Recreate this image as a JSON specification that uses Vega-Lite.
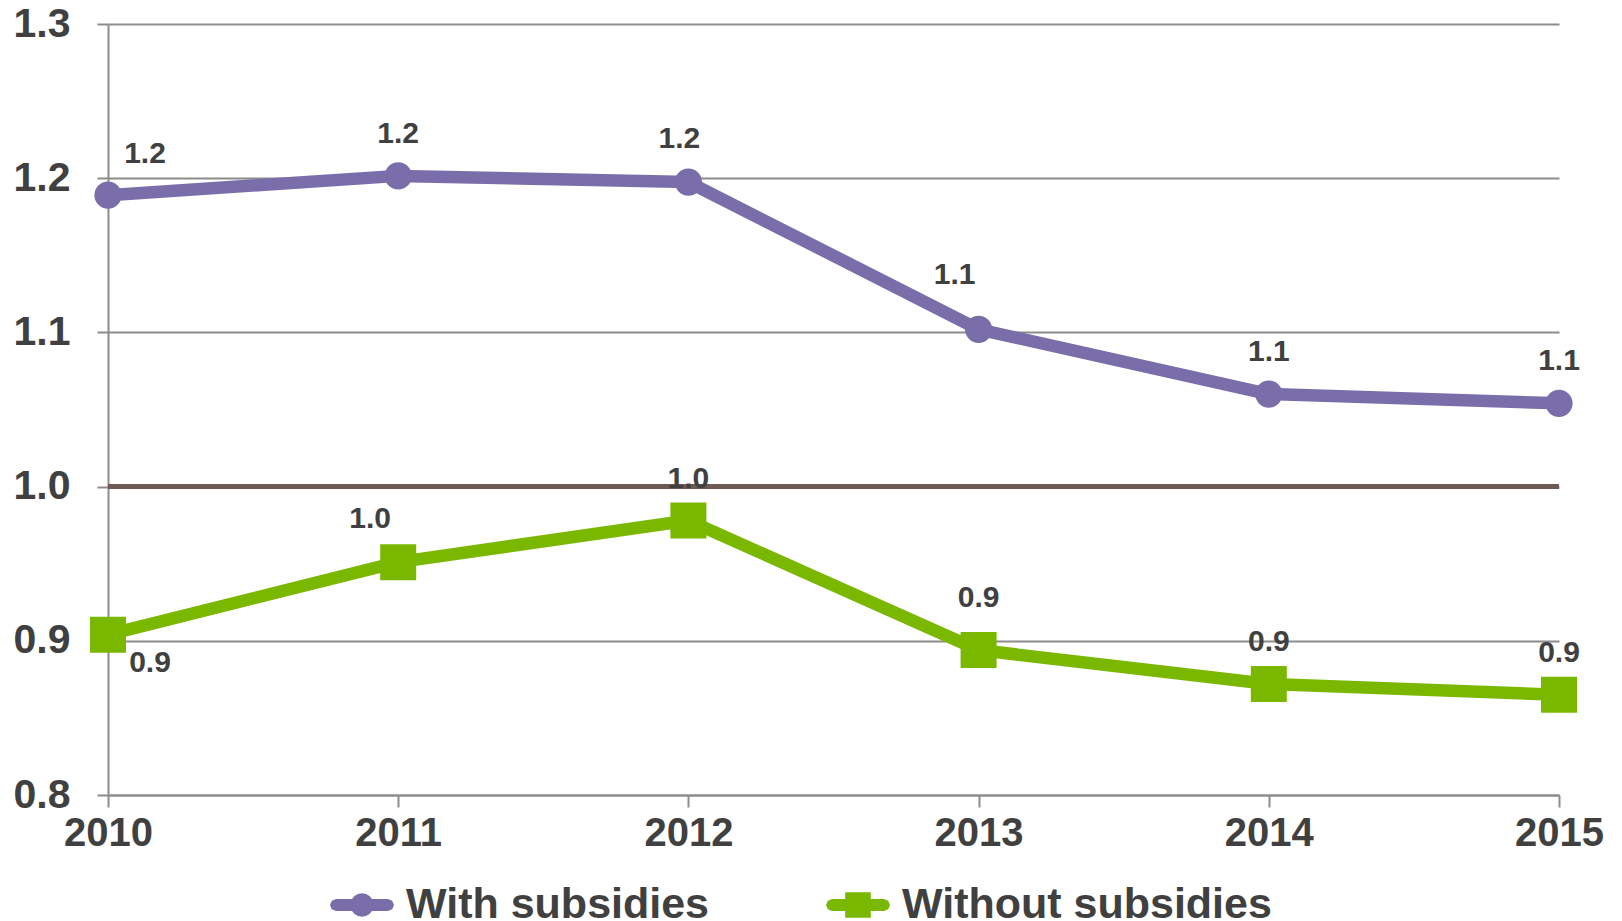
{
  "$schema": "https://vega.github.io/schema/vega-lite/v6.json",
  "width": 1451,
  "height": 771,
  "autosize": {"type": "none"},
  "padding": {"left": 108, "top": 24, "right": 63, "bottom": 126},
  "background": "white",
  "data": {
    "values": [
      {"year": 2010, "series": "With subsidies", "value": 1.189},
      {"year": 2011, "series": "With subsidies", "value": 1.2015},
      {"year": 2012, "series": "With subsidies", "value": 1.1975},
      {"year": 2013, "series": "With subsidies", "value": 1.102},
      {"year": 2014, "series": "With subsidies", "value": 1.06},
      {"year": 2015, "series": "With subsidies", "value": 1.054},
      {"year": 2010, "series": "Without subsidies", "value": 0.904},
      {"year": 2011, "series": "Without subsidies", "value": 0.951},
      {"year": 2012, "series": "Without subsidies", "value": 0.978},
      {"year": 2013, "series": "Without subsidies", "value": 0.894},
      {"year": 2014, "series": "Without subsidies", "value": 0.872},
      {"year": 2015, "series": "Without subsidies", "value": 0.865}
    ]
  },
  "config": {
    "view": {"stroke": null},
    "font": "Liberation Sans"
  },
  "layer": [
    {
      "transform": [{"filter": "datum.series == 'With subsidies'"}],
      "mark": {"type": "line", "strokeWidth": 12.5, "strokeJoin": "round", "color": "#7a6eaa"},
      "encoding": {
        "x": {"field": "year", "type": "ordinal", "scale": {"type": "point", "padding": 0},
          "axis": {"title": null, "grid": false, "domain": true, "domainColor": "#8c8c8c", "domainWidth": 2, "ticks": true, "tickSize": 12, "tickColor": "#8c8c8c", "tickWidth": 2, "labelFont": "Liberation Sans", "labelFontWeight": "bold", "labelFontSize": 40, "labelColor": "#404040", "labelPadding": 6, "labelAngle": 0}},
        "y": {"field": "value", "type": "quantitative", "scale": {"domain": [0.8, 1.3], "zero": false, "nice": false},
          "axis": {"title": null, "values": [0.8, 0.9, 1.0, 1.1, 1.2, 1.3], "format": ".1f", "grid": true, "gridColor": "#8c8c8c", "gridWidth": 2, "domain": true, "domainColor": "#8c8c8c", "domainWidth": 2, "ticks": true, "tickSize": 11, "tickColor": "#8c8c8c", "tickWidth": 2, "labelFont": "Liberation Sans", "labelFontWeight": "bold", "labelFontSize": 41, "labelColor": "#404040", "labelPadding": 27}}
      }
    },
    {
      "transform": [{"filter": "datum.series == 'Without subsidies'"}],
      "mark": {"type": "line", "strokeWidth": 12.5, "strokeJoin": "round", "color": "#7ab800"},
      "encoding": {
        "x": {"field": "year", "type": "ordinal"},
        "y": {"field": "value", "type": "quantitative"}
      }
    },
    {
      "mark": {"type": "rule", "color": "#6e5a55", "strokeWidth": 4},
      "encoding": {
        "y": {"datum": 1.0, "type": "quantitative"}
      }
    },
    {
      "transform": [{"filter": "datum.series == 'With subsidies'"}],
      "mark": {"type": "point", "shape": "circle", "filled": true, "size": 740, "opacity": 1, "color": "#7a6eaa"},
      "encoding": {
        "x": {"field": "year", "type": "ordinal"},
        "y": {"field": "value", "type": "quantitative"}
      }
    },
    {
      "transform": [{"filter": "datum.series == 'Without subsidies'"}],
      "mark": {"type": "point", "shape": "square", "filled": true, "size": 1296, "opacity": 1, "color": "#7ab800"},
      "encoding": {
        "x": {"field": "year", "type": "ordinal"},
        "y": {"field": "value", "type": "quantitative"}
      }
    },
    {
      "mark": {"type": "point", "filled": true, "opacity": 0},
      "encoding": {
        "x": {"field": "year", "type": "ordinal"},
        "y": {"field": "value", "type": "quantitative"},
        "color": {"field": "series", "type": "nominal",
          "scale": {"domain": ["With subsidies", "Without subsidies"], "range": ["#7a6eaa", "#7ab800"]},
          "legend": {"title": null, "orient": "none", "legendX": 222, "legendY": 849, "direction": "horizontal", "labelFont": "Liberation Sans", "labelFontWeight": "bold", "labelFontSize": 43, "labelColor": "#404040", "symbolSize": 4096, "symbolStrokeWidth": 0, "symbolOpacity": 1, "labelOffset": 12, "columnPadding": 116, "labelLimit": 1000}},
        "shape": {"field": "series", "type": "nominal",
          "scale": {"domain": ["With subsidies", "Without subsidies"], "range": [
            "M-0.81,-0.19L-0.312,-0.19L-0.235,-0.28L-0.125,-0.343L0,-0.365L0.125,-0.343L0.235,-0.28L0.312,-0.19L0.81,-0.19L0.944,-0.134L1,0L0.944,0.134L0.81,0.19L0.312,0.19L0.235,0.28L0.125,0.343L0,0.365L-0.125,0.343L-0.235,0.28L-0.312,0.19L-0.81,0.19L-0.944,0.134L-1,0L-0.944,-0.134Z",
            "M-0.81,-0.19L-0.4,-0.19L-0.4,-0.4L0.4,-0.4L0.4,-0.19L0.81,-0.19L0.944,-0.134L1,0L0.944,0.134L0.81,0.19L0.4,0.19L0.4,0.4L-0.4,0.4L-0.4,0.19L-0.81,0.19L-0.944,0.134L-1,0L-0.944,-0.134Z"
          ]},
          "legend": {"title": null, "orient": "none", "legendX": 222, "legendY": 849, "direction": "horizontal", "labelFont": "Liberation Sans", "labelFontWeight": "bold", "labelFontSize": 43, "labelColor": "#404040", "symbolSize": 4096, "symbolStrokeWidth": 0, "symbolOpacity": 1, "labelOffset": 12, "columnPadding": 116, "labelLimit": 1000}}
      }
    },
    {
      "transform": [{"filter": "!(datum.year == 2010 || datum.year == 2013 || (datum.year == 2011 && datum.series == 'Without subsidies') || (datum.year == 2012 && datum.series == 'With subsidies'))"}],
      "mark": {"type": "text", "font": "Liberation Sans", "fontWeight": "bold", "fontSize": 30, "color": "#404040", "baseline": "middle", "align": "center", "dy": -42},
      "encoding": {
        "x": {"field": "year", "type": "ordinal"},
        "y": {"field": "value", "type": "quantitative"},
        "text": {"field": "value", "type": "quantitative", "format": ".1f"}
      }
    },
    {
      "transform": [{"filter": "datum.year == 2010 && datum.series == 'With subsidies'"}],
      "mark": {"type": "text", "font": "Liberation Sans", "fontWeight": "bold", "fontSize": 30, "color": "#404040", "baseline": "middle", "align": "center", "dx": 37, "dy": -41},
      "encoding": {
        "x": {"field": "year", "type": "ordinal"},
        "y": {"field": "value", "type": "quantitative"},
        "text": {"field": "value", "type": "quantitative", "format": ".1f"}
      }
    },
    {
      "transform": [{"filter": "datum.year == 2010 && datum.series == 'Without subsidies'"}],
      "mark": {"type": "text", "font": "Liberation Sans", "fontWeight": "bold", "fontSize": 30, "color": "#404040", "baseline": "middle", "align": "center", "dx": 42, "dy": 28},
      "encoding": {
        "x": {"field": "year", "type": "ordinal"},
        "y": {"field": "value", "type": "quantitative"},
        "text": {"field": "value", "type": "quantitative", "format": ".1f"}
      }
    },
    {
      "transform": [{"filter": "datum.year == 2011 && datum.series == 'Without subsidies'"}],
      "mark": {"type": "text", "font": "Liberation Sans", "fontWeight": "bold", "fontSize": 30, "color": "#404040", "baseline": "middle", "align": "center", "dx": -28, "dy": -43},
      "encoding": {
        "x": {"field": "year", "type": "ordinal"},
        "y": {"field": "value", "type": "quantitative"},
        "text": {"field": "value", "type": "quantitative", "format": ".1f"}
      }
    },
    {
      "transform": [{"filter": "datum.year == 2012 && datum.series == 'With subsidies'"}],
      "mark": {"type": "text", "font": "Liberation Sans", "fontWeight": "bold", "fontSize": 30, "color": "#404040", "baseline": "middle", "align": "center", "dx": -9, "dy": -43},
      "encoding": {
        "x": {"field": "year", "type": "ordinal"},
        "y": {"field": "value", "type": "quantitative"},
        "text": {"field": "value", "type": "quantitative", "format": ".1f"}
      }
    },
    {
      "transform": [{"filter": "datum.year == 2013 && datum.series == 'With subsidies'"}],
      "mark": {"type": "text", "font": "Liberation Sans", "fontWeight": "bold", "fontSize": 30, "color": "#404040", "baseline": "middle", "align": "center", "dx": -24, "dy": -54},
      "encoding": {
        "x": {"field": "year", "type": "ordinal"},
        "y": {"field": "value", "type": "quantitative"},
        "text": {"field": "value", "type": "quantitative", "format": ".1f"}
      }
    },
    {
      "transform": [{"filter": "datum.year == 2013 && datum.series == 'Without subsidies'"}],
      "mark": {"type": "text", "font": "Liberation Sans", "fontWeight": "bold", "fontSize": 30, "color": "#404040", "baseline": "middle", "align": "center", "dy": -52},
      "encoding": {
        "x": {"field": "year", "type": "ordinal"},
        "y": {"field": "value", "type": "quantitative"},
        "text": {"field": "value", "type": "quantitative", "format": ".1f"}
      }
    }
  ]
}
